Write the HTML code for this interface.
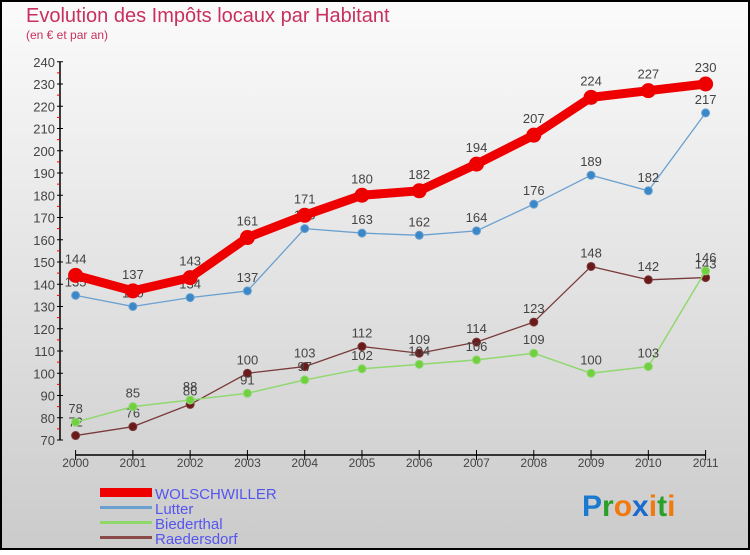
<!DOCTYPE html>
<html><head><meta charset="utf-8">
<style>
html,body{margin:0;padding:0;}
body{width:750px;height:550px;overflow:hidden;font-family:"Liberation Sans",sans-serif;}
svg text{font-family:"Liberation Sans",sans-serif;}
</style></head>
<body>
<svg id="chart" width="750" height="550" xmlns="http://www.w3.org/2000/svg">
<defs>
<linearGradient id="bg" x1="0" y1="0" x2="0" y2="1">
<stop offset="0" stop-color="#fbfbfb"/><stop offset="1" stop-color="#cbcbcb"/>
</linearGradient>
</defs>
<rect x="1" y="1" width="748" height="548" fill="url(#bg)" stroke="#000" stroke-width="2"/>
<text x="26" y="22" font-size="20" fill="#c8305f">Evolution des Impôts locaux par Habitant</text>
<text x="26" y="39" font-size="12" fill="#c8305f">(en € et par an)</text>
<g id="axes"></g>
<g id="series"></g>
<g>
<rect x="100" y="488" width="52" height="9" fill="#ee0000"/>
<text x="155" y="499" font-size="15" fill="#5555ee">WOLSCHWILLER</text>
<rect x="100" y="506" width="52" height="3" fill="#6a9fd0"/>
<text x="155" y="514" font-size="15" fill="#5555ee">Lutter</text>
<rect x="100" y="521" width="52" height="3" fill="#8fd86a"/>
<text x="155" y="529" font-size="15" fill="#5555ee">Biederthal</text>
<rect x="100" y="536" width="52" height="3" fill="#8a4a4a"/>
<text x="155" y="544" font-size="15" fill="#5555ee">Raedersdorf</text>
</g>
<g font-size="30" font-weight="bold">
<text x="582" y="516"><tspan fill="#1a7ad0">P</tspan><tspan fill="#2aa02a">r</tspan><tspan fill="#f07a10">o</tspan><tspan fill="#1a6ad0">x</tspan><tspan fill="#f07a10">i</tspan><tspan fill="#2aa02a">t</tspan><tspan fill="#f07a10">i</tspan></text>
</g>
</svg>
<script>
const years = [2000,2001,2002,2003,2004,2005,2006,2007,2008,2009,2010,2011];
const yTicks = [70,80,90,100,110,120,130,140,150,160,170,180,190,200,210,220,230,240];
const wolschwiller = [144,137,143,161,171,180,182,194,207,224,227,230];
const lutter = [135,130,134,137,165,163,162,164,176,189,182,217];
const biederthal = [78,85,88,91,97,102,104,106,109,100,103,146];
const raedersdorf = [72,76,86,100,103,112,109,114,123,148,142,143];

const NS='http://www.w3.org/2000/svg';
function x(i){return 75.6+i*(705.6-75.6)/(years.length-1);}
function y(v){return 440-(v-70)*2.225;}
function mk(tag,attrs,parent){const e=document.createElementNS(NS,tag);for(const k in attrs)e.setAttribute(k,attrs[k]);parent.appendChild(e);return e;}
const axes=document.getElementById('axes');
const ser=document.getElementById('series');
const ya=mk('line',{x1:60,y1:y(240),x2:60,y2:y(70),stroke:'#000','stroke-width':1.5},axes);


yTicks.forEach(v=>{
  const t=mk('line',{x1:57,x2:63,y1:y(v),y2:y(v),stroke:'#000'},axes);
  
  
  if(v<240){const m=mk('line',{x1:57,x2:60,y1:y(v+5),y2:y(v+5),stroke:'#e00'},axes);
  
  }
  const l=mk('text',{x:55,y:y(v)+5,'font-size':13,fill:'#444','text-anchor':'end'},axes);
  
  
  l.textContent=v;
});
const xa=mk('line',{x1:75.6,y1:455,x2:705.6,y2:455,stroke:'#000','stroke-width':1.5},axes);


years.forEach((yr,i)=>{
  const t=mk('line',{x1:x(i),x2:x(i),y1:450,y2:460,stroke:'#000'},axes);
  
  
  const l=mk('text',{x:x(i),y:467,'font-size':12,fill:'#444','text-anchor':'middle'},axes);
  
  
  l.textContent=yr;
});
function draw(name,data,color,dot,w,r){
  const g=mk('g',{},ser);
  
  
  const p=mk('polyline',{points:data.map((v,i)=>x(i)+','+y(v)).join(' '),fill:'none',stroke:color,'stroke-width':w,'stroke-linejoin':'round'},g);
  
  
  data.forEach((v,i)=>{
    const c=mk('circle',{cx:x(i),cy:y(v),r:r,fill:dot,stroke:color,'stroke-width':1},g);
    
    
    const t=mk('text',{x:x(i),y:y(v)-r-5,'font-size':13,fill:'#444','text-anchor':'middle'},g);
    
    
    t.textContent=v;
  });
}
draw('raedersdorf',raedersdorf,'#7a3a3a','#6a1a1a',1.3,4);
draw('biederthal',biederthal,'#90d870','#70d040',1.5,4);
draw('lutter',lutter,'#6aa0d0','#3a88c8',1.3,4);
draw('wolschwiller',wolschwiller,'#ee0000','#ee0000',9,7);
</script>
</body></html>
